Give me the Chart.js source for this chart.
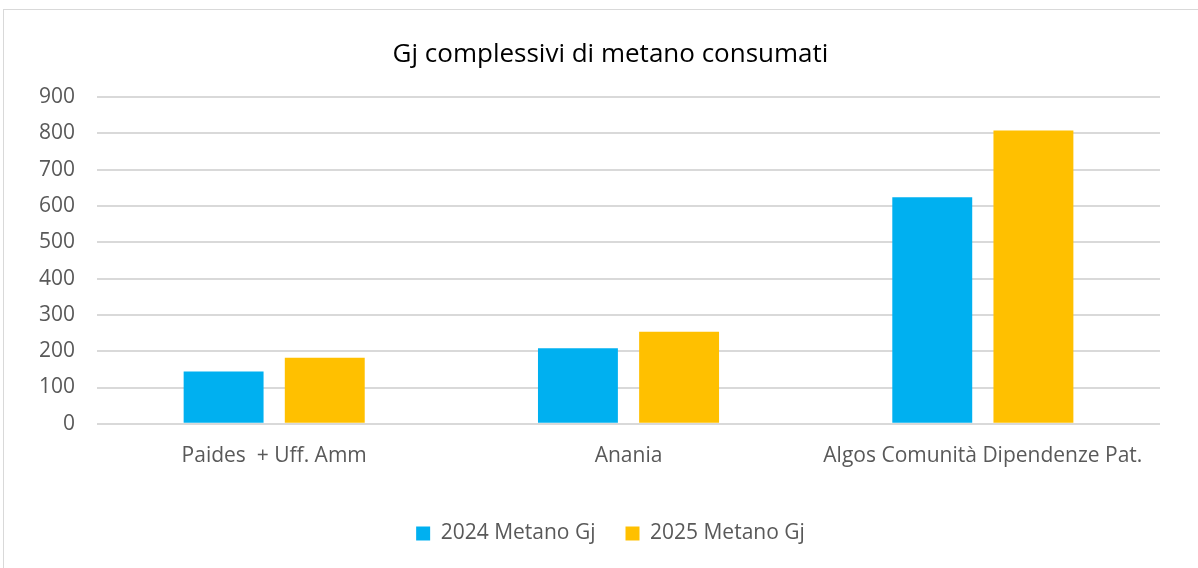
<!DOCTYPE html>
<html>
<head>
<meta charset="utf-8">
<script src="https://cdn.jsdelivr.net/npm/chart.js@4.4.1/dist/chart.umd.min.js"></script>
<style>
  html, body { margin: 0; padding: 0; background: #fff; }
  #wrap { position: relative; width: 1198px; height: 568px; }
</style>
</head>
<body>
<div id="wrap"><canvas id="myChart"></canvas></div>
<script>
const categories = ["Paides  + Uff. Amm", "Anania", "Algos Comunità Dipendenze Pat."];
const seriesNames = ["2024 Metano Gj", "2025 Metano Gj"];
const values2024 = [144, 208, 624];
const values2025 = [182, 254, 808];
const yTicks = [0, 100, 200, 300, 400, 500, 600, 700, 800, 900];

const FONT = "'Open Sans', 'Noto Sans', sans-serif";

// outer frame like the office chart area
const frame = {
  id: "frame",
  beforeDraw(chart) {
    const ctx = chart.ctx;
    ctx.save();
    ctx.strokeStyle = "#d9d9d9";
    ctx.lineWidth = 1;
    ctx.strokeRect(3.5, 9.5, 1200, 600);
    ctx.restore();
  }
};

// title and legend sit centred on the whole frame, not on the padded area
const centreShift = {
  id: "centreShift",
  afterLayout(chart) {
    for (const box of [chart.titleBlock, chart.legend]) {
      if (!box) continue;
      box.left += 22;
      box.right += 22;
    }
  }
};

new Chart("myChart", {
  type: "bar",
  data: {
    labels: categories,
    datasets: [
      {
        label: seriesNames[0],
        data: values2024,
        backgroundColor: "#00b0f0",
        categoryPercentage: 0.571,
        barPercentage: 0.79,
      },
      {
        label: seriesNames[1],
        data: values2025,
        backgroundColor: "#ffc000",
        categoryPercentage: 0.571,
        barPercentage: 0.79,
      },
    ],
  },
  plugins: [frame, centreShift],
  options: {
    responsive: true,
    maintainAspectRatio: false,
    animation: false,
    layout: { padding: { left: 17, right: 38, top: 39, bottom: 14 } },
    plugins: {
      title: {
        display: true,
        text: "Gj complessivi di metano consumati",
        color: "#000",
        font: { family: FONT, size: 26, weight: "normal" },
        padding: { top: 0, bottom: 27 },
      },
      legend: {
        position: "bottom",
        labels: {
          color: "#595959",
          font: { family: FONT, size: 21 },
          boxWidth: 14,
          boxHeight: 14,
          padding: 30,
        },
      },
      tooltip: { enabled: false },
    },
    scales: {
      x: {
        grid: { display: false },
        border: { display: false },
        ticks: {
          color: "#595959",
          font: { family: FONT, size: 21 },
          padding: 12,
          maxRotation: 0,
        },
        afterFit(axis) {
          axis.height += 12;
        },
      },
      y: {
        min: 0,
        max: 900,
        afterBuildTicks(axis) {
          axis.ticks = yTicks.map(v => ({ value: v }));
        },
        grid: { color: "#d9d9d9", lineWidth: 2, drawTicks: false },
        border: { display: false },
        ticks: {
          color: "#595959",
          font: { family: FONT, size: 21 },
          padding: 22,
        },
      },
    },
  },
});
</script>
</body>
</html>
